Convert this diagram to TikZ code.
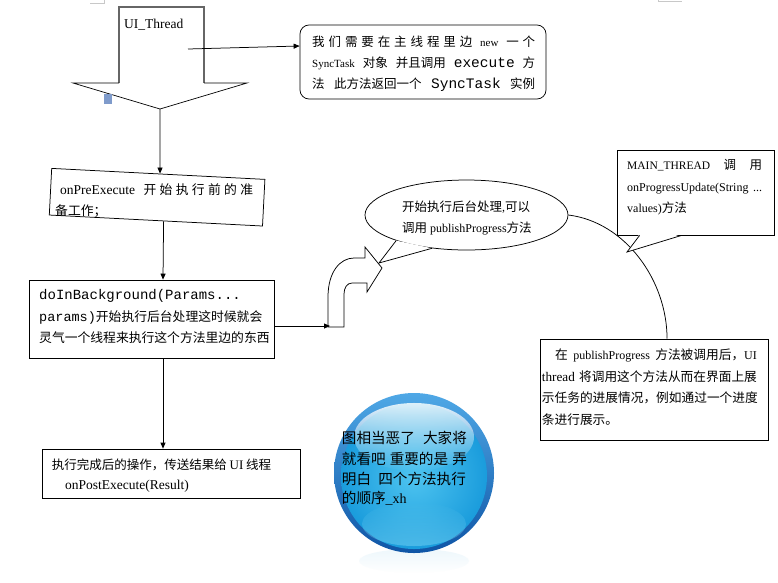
\documentclass[tikz,border=0pt]{standalone}
\usepackage{fontspec}
\setmainfont{Liberation Serif}
\setmonofont{Liberation Mono}
\newfontfamily\cjk{Noto Sans CJK SC}
\usetikzlibrary{arrows.meta,calc,shapes.geometric,fadings}

\tikzfading[name=glossfade, top color=transparent!15, bottom color=transparent!100]
\tikzfading[name=glowfade, top color=transparent!100, bottom color=transparent!60]
\tikzfading[name=mirrorfade, top color=transparent!70, bottom color=transparent!100]

\definecolor{markgray}{HTML}{C8C8C8}
\definecolor{tagblue}{HTML}{7F9BCB}
\definecolor{ringlight}{HTML}{4FA8E6}
\definecolor{ringdark}{HTML}{0F55A6}
\definecolor{discin}{HTML}{4EC4F0}
\definecolor{discout}{HTML}{1A9CDC}
\definecolor{discglow}{HTML}{8FE0F8}

% Latin runs inside CJK text
\newcommand\lat[2][12.5]{{\rmfamily\fontsize{#1pt}{15pt}\selectfont #2}}
\newcommand\cour[2][14.5]{{\ttfamily\fontsize{#1pt}{16pt}\selectfont #2}}

% spread a run of characters with \hfil between them
\def\sprd#1{\sprdA#1\relax}
\def\sprdA#1{#1\sprdB}
\def\sprdB#1{\ifx\relax#1\else\hfil#1\expandafter\sprdB\fi}

\tikzset{
  box/.style={draw, line width=0.75pt, inner sep=0pt, fill=white},
  txt/.style={anchor=base west, inner sep=0pt, font=\cjk\fontsize{12.5pt}{15pt}\selectfont},
  txtb/.style={txt, font=\cjk\fontsize{12.8pt}{15pt}\selectfont},
  txtc/.style={txt, font=\cjk\fontsize{12.7pt}{15pt}\selectfont},
  disctxt/.style={txt, font=\cjk\fontsize{14.6pt}{17pt}\selectfont},
  link/.style={line width=0.75pt, -{Triangle[length=6pt,width=5pt]}},
  plain/.style={line width=0.75pt},
}

\begin{document}
\begin{tikzpicture}[x=1pt,y=-1pt]
\fill[white] (0,0) rectangle (778,582);
\useasboundingbox (0,0) rectangle (778,582);

% page corner marks
\draw[markgray, line width=0.6pt] (90,3) -- (104,3) -- (104,0);
\draw[markgray, line width=0.6pt] (658,0) -- (658,1.5) -- (682,1.5);

% UI_Thread block arrow
\draw[line width=1.1pt, black!60] (119,83) -- (119,7) -- (204,7) -- (204,83);
\draw[line width=0.7pt] (119,83) -- (73,83) -- (160,109) -- (247,83) -- (204,83);
\coordinate (uitip) at (160,109);
\coordinate (uistart) at (188,49);
\node[txt, font=\rmfamily\fontsize{13.5pt}{15pt}\selectfont] (uilabel) at (124,28) {UI\_Thread};
\fill[tagblue] (104,94) rectangle (112,104);

% note on creating the task
\node[box, rounded corners=9pt, minimum width=246pt, minimum height=74pt] (note) at (423,62) {};
\node[txt] (n1) at (312,46.5) {\hbox to 223pt{\sprd{我们需要在主线程里边}\hfil\hfil\lat[11]{new}\hfil\hfil\sprd{一个}}};
\node[txt] (n2) at (312,67.5) {\hbox to 223pt{\lat[11]{SyncTask}\hfil 对象\hfil 并且调用\hfil\cour{execute}\hfil 方}};
\node[txt] (n3) at (312,88.5) {\hbox to 223pt{法\hfil 此方法返回一个\hfil\cour{SyncTask}\hfil 实例}};
\draw[link] (uistart) -- (note.west |- 0,46);

% onPreExecute
\node[box, minimum width=213.5pt, minimum height=46.7pt, rotate=-2.95] (prebox) at (157.1,197.2) {};
\node[txtb] (p1) at (60,194.5) {\hbox to 193pt{\lat[13.5]{onPreExecute}\hspace{5pt}\hfil\sprd{开始执行前的准}}};
\node[txtb] (p2) at (55,215.5) {备工作；};
\draw[link] (uitip) -- ($(prebox.north west)!0.508!(prebox.north east)$);

% doInBackground
\coordinate (colx) at (163,0);
\node[box, minimum width=245pt, minimum height=78pt] (bgbox) at (151.5,319) {};
\node[txt] (b1) at (39,299.5) {\cour[14]{doInBackground(Params...}};
\node[txtb] (b2) at (39,321) {\cour[13.5]{params)}开始执行后台处理这时候就会};
\node[txtb] (b3) at (39,342.5) {灵气一个线程来执行这个方法里边的东西};
\draw[link] ($(prebox.south west)!0.536!(prebox.south east)$) -- (bgbox.north -| colx);

% bent arrow towards the background callout
\coordinate (bendfoot) at (330,326);
\draw[link] ($(bgbox.east)+(0,7)$) -- (bendfoot);
\draw[plain] (328,327) -- (328,297) .. controls (328,272) and (340,258) .. (354,258)
  -- (365,258) -- (365,247) -- (382,268) -- (367,292) -- (367,283) -- (352,283)
  .. controls (347,283) and (344,288) .. (344,294) -- (344,327) -- cycle;

% speech oval
\node[draw, plain, ellipse, minimum width=203pt, minimum height=70pt, inner sep=0pt] (oval) at (466.5,215) {};
\coordinate (ovaltip) at (379,263);
\fill[white] (oval.200) -- (ovaltip) -- (oval.224) -- cycle;
\draw[plain] (oval.200) -- (ovaltip) -- (oval.224);
\node[txt] (o1) at (402,211) {开始执行后台处理\lat[12]{,}可以};
\node[txt] (o2) at (402,232.5) {调用 \lat[12]{publishProgress}方法};

% progress description box
\node[box, minimum width=228pt, minimum height=101pt] (brbox) at (654,389.5) {};
\node[txtc] (r1) at (555,359.5) {\hbox to 201.7pt{在\hfil\lat[12]{publishProgress}\hfil 方法被调用后，\lat[12]{UI}}};
\node[txtc] (r2) at (541.7,381) {\hbox to 215pt{\lat[13.2]{thread}\hfil 将调用这个方法从而在界面上展}};
\node[txtc] (r3) at (541.7,402.5) {示任务的进展情况，例如通过一个进度};
\node[txtc] (r4) at (541.7,424.5) {条进行展示。};
\draw[plain] (oval.east) .. controls (625,222) and (667,280) .. ($(brbox.north west)!0.557!(brbox.north east)$);

% MAIN_THREAD callout
\node[box, minimum width=157pt, minimum height=85pt] (mainbox) at (695.5,192.5) {};
\coordinate (mtip) at (627,252);
\fill[white] ($(mainbox.south west)+(23,-1.5)$) -- (mtip) -- ($(mainbox.south west)+(65,-1.5)$) -- cycle;
\draw[plain] ($(mainbox.south west)+(23,0)$) -- (mtip) -- ($(mainbox.south west)+(65,0)$);
\node[txt] (m1) at (627,169.5) {\hbox to 135pt{\lat[11.5]{MAIN\_THREAD}\hfil 调\hfil 用}};
\node[txt] (m2) at (627,191) {\hbox to 135pt{\lat[12]{onProgressUpdate(String}\hfil\lat[12]{...}}};
\node[txt] (m3) at (627,212.5) {\lat[12]{values)}方法};

% onPostExecute
\node[box, minimum width=258pt, minimum height=49pt] (finbox) at (171,473.5) {};
\node[txt] (f1) at (51.7,469.5) {执行完成后的操作，传送结果给 \lat[13]{UI} 线程};
\node[txt] (f2) at (65,489.5) {\lat[13.5]{onPostExecute(Result)}};
\draw[link] (bgbox.south -| colx) -- (finbox.north -| colx);

% glossy disc
\fill[discout!25, path fading=mirrorfade] (414,561) ellipse (55 and 12);
\shade[top color=ringlight, bottom color=ringdark] (414,473) circle (80);
\shade[inner color=discin, outer color=discout] (414,476) circle (73);
\fill[discglow, path fading=glowfade] (414,524) ellipse (52 and 22);
\fill[white, path fading=glossfade] (414,437) ellipse (60 and 34);
\node[disctxt] (c1) at (341.7,443) {\hbox to 125pt{图相当恶了\hfil 大家将}};
\node[disctxt] (c2) at (341.7,464) {\hbox to 125pt{就看吧\hfil 重要的是\hfil 弄}};
\node[disctxt] (c3) at (341.7,484) {\hbox to 124pt{明白\hfil 四个方法执行}};
\node[disctxt] (c4) at (341.7,503.5) {的顺序\lat[14]{\_xh}};
\end{tikzpicture}
\end{document}
